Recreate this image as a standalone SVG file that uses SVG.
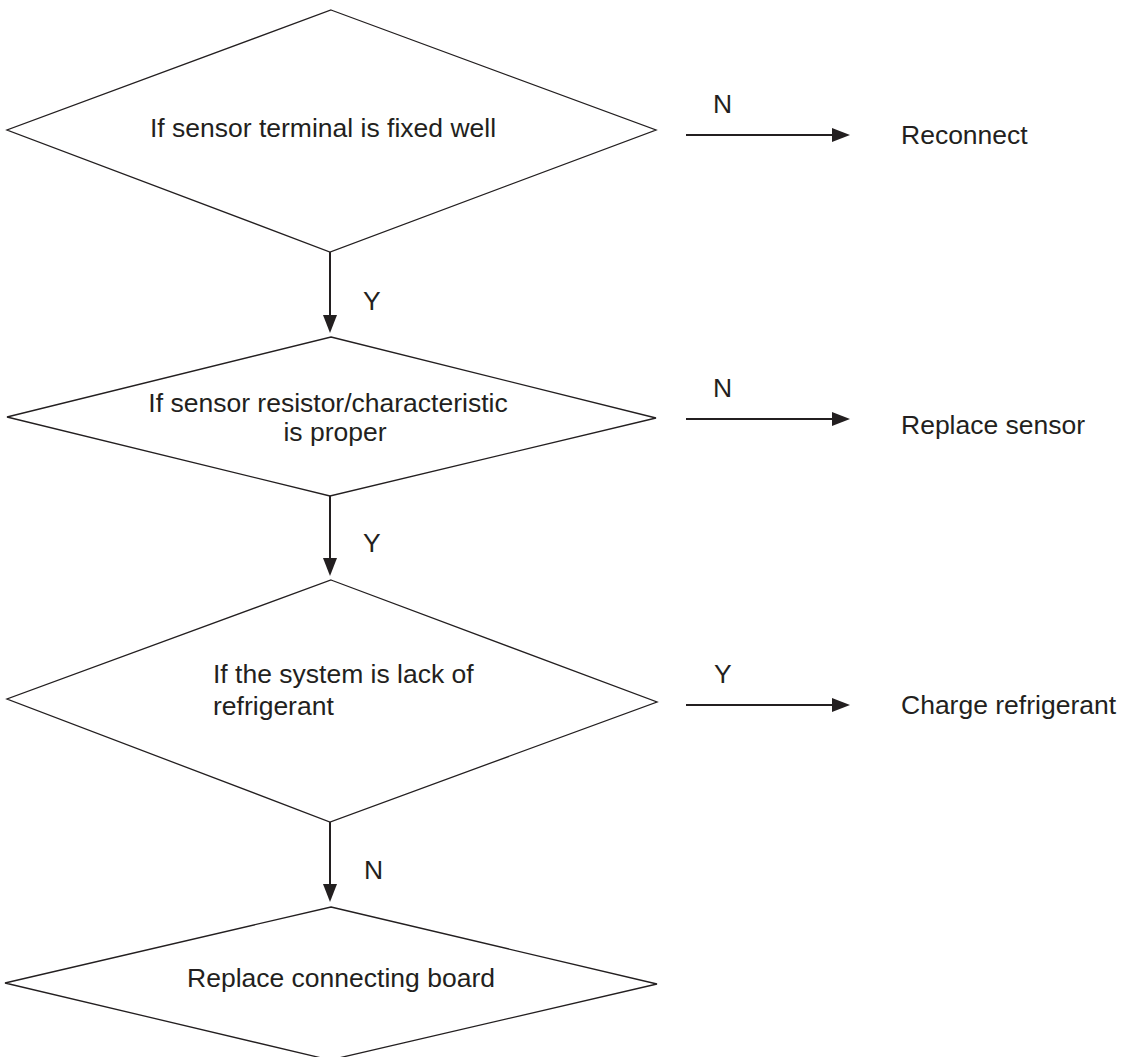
<svg xmlns="http://www.w3.org/2000/svg" width="1124" height="1057" viewBox="0 0 1124 1057">
<style>
.node polygon{fill:#ffffff;stroke:#231f20;stroke-width:1.3;stroke-linejoin:miter}
text{font-family:"Liberation Sans",Arial,sans-serif;font-size:26.5px;fill:#231f20}
.lbl{text-anchor:middle}
.conn line{stroke:#231f20;stroke-width:2;marker-end:url(#ah)}
</style>
<defs>
<marker id="ah" markerUnits="userSpaceOnUse" markerWidth="18" markerHeight="14" viewBox="0 0 18 14" refX="8" refY="7" orient="auto">
<path d="M0,0 L18,7 L0,14 z" fill="#231f20"/>
</marker>
</defs>
<rect width="1124" height="1057" fill="#ffffff"/>
<g id="d1" class="node">
<polygon points="331,10 656,130 330,252 7,130"/>
<text class="lbl" x="323" y="137">If sensor terminal is fixed well</text>
</g>
<g id="d2" class="node">
<polygon points="331,337 656,418 330,496 7,417"/>
<text class="lbl" x="328" y="412">If sensor resistor/characteristic</text>
<text class="lbl" x="335" y="441">is proper</text>
</g>
<g id="d3" class="node">
<polygon points="331,580 657,702 330,822 7,699"/>
<text x="213" y="683">If the system is lack of</text>
<text x="213" y="715">refrigerant</text>
</g>
<g id="d4" class="node">
<polygon points="331,907 657,984 330,1060 5,983"/>
<text class="lbl" x="341" y="987">Replace connecting board</text>
</g>
<g id="r1"><text x="901" y="144">Reconnect</text></g>
<g id="r2"><text x="901" y="434">Replace sensor</text></g>
<g id="r3"><text x="901" y="714">Charge refrigerant</text></g>
<g id="connectors" class="conn">
<line x1="330" y1="252" x2="330" y2="323"/>
<line x1="330" y1="496" x2="330" y2="566"/>
<line x1="330" y1="822" x2="330" y2="892"/>
<line x1="686" y1="135" x2="840" y2="135"/>
<line x1="686" y1="419" x2="840" y2="419"/>
<line x1="686" y1="705" x2="840" y2="705"/>
<text x="363" y="310">Y</text>
<text x="363" y="552">Y</text>
<text x="364" y="879">N</text>
<text x="713" y="113">N</text>
<text x="713" y="397">N</text>
<text x="714" y="683">Y</text>
</g>
</svg>
